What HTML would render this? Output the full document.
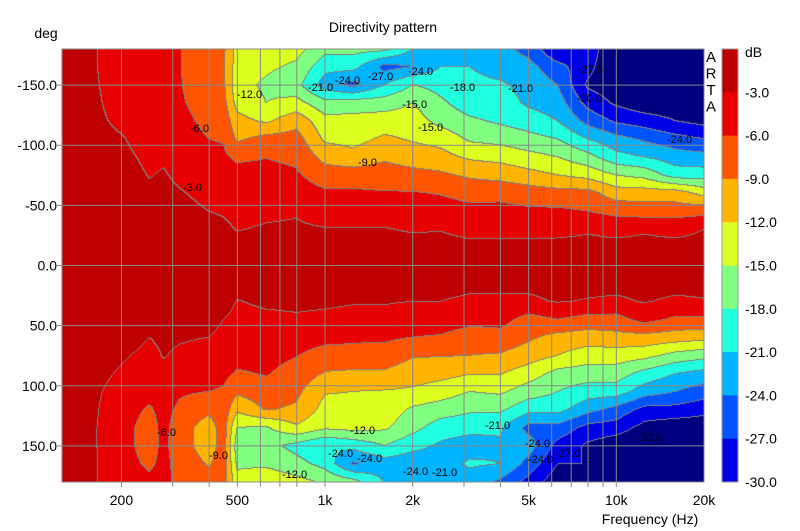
<!DOCTYPE html>
<html><head><meta charset="utf-8">
<style>
html,body{margin:0;padding:0;background:#fff;}
#wrap{position:relative;width:800px;height:531px;overflow:hidden;font-family:"Liberation Sans",Arial,sans-serif;}
canvas{position:absolute;left:62px;top:49px;}
svg{position:absolute;left:0;top:0;}
</style></head>
<body>
<div id="wrap">
<canvas id="cv" width="642" height="433"></canvas>
<svg id="sv" width="800" height="531"></svg>
</div>
<script>
// ---- data ----
const freqs = [125,160,200,250,280,315,400,450,500,630,800,1000,1250,1600,2000,2500,3150,4000,5000,6300,8000,10000,12500,16000,20000];
const angles = [-180,-165,-150,-135,-120,-105,-90,-75,-60,-45,-30,-15,0,15,30,45,60,75,90,105,120,135,150,165,180];
const col125 = [-2,-2,-1.8,-1.6,-1.5,-1.4,-1.3,-1.2,-1.1,-1,-1,-1,-1,-1,-1,-1,-1,-1.1,-1.2,-1.3,-1.4,-1.5,-1.6,-1.8,-2];
const col160 = [-2.7,-2.7,-2.6,-2.5,-2.4,-2.2,-2,-1.8,-1.5,-1.3,-1.1,-1,-1,-1,-1.1,-1.3,-1.5,-1.8,-2.2,-2.5,-2.6,-2.7,-2.7,-2.7,-2.7];
const col200 = [-4.5,-4.5,-4.3,-4,-3.5,-2.8,-2.4,-2,-1.8,-1.5,-1.2,-1,-1,-1,-1.2,-1.6,-2,-2.7,-3.3,-4,-4.5,-4.7,-4.7,-4.5,-4.5];
const col250 = [-5,-5,-5,-4.8,-4.5,-4,-3.5,-3.1,-2.6,-2.2,-1.8,-1.4,-1.2,-1.3,-1.7,-2.3,-3,-3.6,-4.2,-5,-6.4,-7.4,-7.4,-6.6,-5.2];
const col280 = [-5.4,-5.4,-5.3,-5.1,-4.7,-4,-3.3,-2.8,-2.4,-2,-1.6,-1.3,-1.2,-1.3,-1.7,-2.3,-2.6,-2.9,-3.4,-4.3,-4.9,-5.1,-5.2,-5.1,-5];
const col315 = [-5.8,-5.8,-5.7,-5.5,-5,-4.5,-4,-3.4,-2.8,-2.3,-1.8,-1.4,-1.2,-1.3,-1.8,-2.5,-2.8,-3.3,-4.5,-5.6,-6.5,-7.5,-7.5,-7,-6.8];
const col400 = [-8,-8,-8,-7.5,-6.8,-6,-5.2,-4.5,-3.6,-3,-2.4,-1.8,-1.5,-1.6,-2,-2.4,-3,-3.8,-5,-6,-8.3,-10.6,-10.6,-9.3,-7.8];
const col450 = [-8.5,-8.5,-8.5,-8,-7,-6.2,-5.5,-4.7,-3.8,-3.2,-2.6,-2,-1.6,-1.6,-2,-3,-3.5,-4.2,-5.3,-6.3,-7,-7.4,-7.5,-7.4,-7.3];
const col500 = [-13,-13.5,-14,-13,-11,-9.5,-6.5,-5,-4.2,-3.6,-3.1,-2.2,-1.8,-2,-3.1,-3.7,-4.3,-5,-6.3,-8.5,-11.5,-15,-16.5,-15.5,-14];
const col630 = [-14,-14.5,-15.5,-15,-12.5,-8,-6.1,-5,-4.2,-3.4,-2.8,-2.2,-1.8,-2,-2.6,-3.5,-4.2,-5,-5.8,-7,-8.8,-15.3,-17,-15.5,-13];
const col800 = [-14,-15.5,-17,-14,-10,-7.8,-6.6,-5.6,-4.6,-3.2,-2.7,-2.2,-1.8,-2,-2.5,-3.3,-4.5,-5.9,-7.2,-8.3,-9.5,-12.5,-19,-17,-14];
const col1000 = [-17,-20,-22.5,-17,-14,-12.5,-10,-7.5,-5.5,-4,-2.9,-2.2,-1.8,-2,-2.6,-3.5,-5,-7.3,-9.2,-11.8,-13,-14.5,-21,-19,-15.5];
const col1250 = [-17,-20,-25,-16.5,-14,-13,-11,-7.5,-5.5,-4,-2.9,-2.2,-1.8,-2,-2.8,-3.8,-5.5,-7,-9.5,-12,-13,-14,-20,-24.5,-17];
const col1600 = [-17,-25,-21,-16.5,-13.5,-11.5,-9.5,-7.5,-5.8,-4,-2.9,-2.2,-1.8,-2,-2.8,-3.8,-5.5,-7.2,-9.5,-12.2,-13.2,-14.5,-18,-22.5,-21];
const col2000 = [-21,-24,-18,-15,-13.5,-12.3,-10.5,-8,-5.8,-4.3,-3.2,-2.3,-1.8,-2,-3,-4.2,-6,-8.8,-10.5,-12.5,-15.5,-17,-20,-23,-23];
const col2500 = [-21,-21,-19,-17.5,-16,-13,-11,-8.5,-6.2,-4.5,-3.1,-2.3,-1.8,-2,-3,-4.3,-6.3,-8.8,-11,-13.5,-16.5,-19.5,-21.5,-22.5,-21.5];
const col3150 = [-22,-21,-20,-19.5,-17.5,-15.5,-12.5,-9.5,-7,-5.2,-3.6,-2.5,-2,-2.3,-3.5,-5,-7.5,-9,-11.8,-15,-17.5,-20,-22.5,-20.5,-22.5];
const col4000 = [-23,-22.5,-20.5,-19.5,-18.5,-16,-13,-10,-7,-5,-3.6,-2.5,-2,-2.3,-3.5,-5,-7,-9.3,-11.8,-14.5,-17.5,-20.5,-21.5,-21,-24.5];
const col5000 = [-25,-23,-22,-21.5,-19.5,-17,-14,-11,-7.5,-5.5,-3.6,-2.5,-2,-2.3,-3.5,-7,-8.5,-10.5,-13.5,-16.5,-20,-25,-22.5,-25,-28];
const col6300 = [-30,-26,-24,-22.5,-21,-18,-15,-12,-8,-5.5,-3.5,-2.5,-2,-2,-2.8,-6,-10,-12,-16,-18,-20,-25,-28,-30,-32];
const col8000 = [-28,-29,-30.5,-28,-25,-21,-17,-13,-8,-6,-3.2,-2.5,-2,-2,-3.2,-7,-10.5,-13.5,-16.5,-19.5,-23,-28,-30.5,-30,-33];
const col10000 = [-33,-33,-32,-30.5,-27.5,-23,-20,-15,-10.5,-7,-3.5,-2.5,-2,-2,-3.5,-7,-10,-13.5,-16.5,-19.5,-25,-28.5,-32,-33,-33];
const col12500 = [-33,-33,-33,-32,-28.5,-24.5,-21,-16,-10.5,-7.5,-3.2,-2.5,-2,-2,-2.8,-5,-10,-14,-19,-22.5,-28,-31,-33,-33,-33];
const col16000 = [-33,-33,-33,-32,-30,-26,-22.5,-19.5,-10.5,-7.5,-3.5,-2.5,-2,-2,-3.5,-6.5,-10.5,-16,-21,-24,-28,-32,-33,-33,-33];
const col20000 = [-33,-33,-33,-32.5,-31,-27,-23,-19.5,-13,-7,-3,-2.5,-2,-2,-3.2,-6.5,-11,-17,-22,-25.5,-29,-32,-33,-33,-33];
const columns = [col125,col160,col200,col250,col280,col315,col400,col450,col500,col630,col800,col1000,col1250,col1600,col2000,col2500,col3150,col4000,col5000,col6300,col8000,col10000,col12500,col16000,col20000];
const yTicks = [-150,-100,-50,0,50,100,150];
const xTickVals = [200,500,1000,2000,5000,10000,20000];
const xTickLabels = ["200","500","1k","2k","5k","10k","20k"];
const gridFreqs = [200,300,400,500,600,700,800,1000,2000,3000,4000,5000,6000,7000,8000,9000,10000];
const levels = [-3,-6,-9,-12,-15,-18,-21,-24,-27,-30];
const levelLabels = ["-3.0","-6.0","-9.0","-12.0","-15.0","-18.0","-21.0","-24.0","-27.0","-30.0"];
const bandColors = ["#bf0000","#e60000","#ff5500","#ffb400","#dcff20","#80ff80","#20ffe0","#00b4ff","#0055ff","#0000e6","#000080"];
const contourLabels = [
 ["-12.0",237,98],["-6.0",190,132],["-3.0",183,191],["-21.0",308,91],["-24.0",335,84],["-27.0",368,80],["-24.0",408,75],
 ["-18.0",450,91],["-15.0",402,108],["-15.0",418,131],["-9.0",358,166],["-21.0",508,92],["-27.0",578,73],["-30.0",577,102],
 ["-24.0",667,143],["-6.0",157,436],["-9.0",209,459],["-12.0",282,478],["-12.0",350,434],["-24.0",328,457],["-24.0",357,462],
 ["-24.0",403,475],["-21.0",432,476],["-21.0",485,429],["-24.0",525,447],["-24.0",528,463],["-27.0",555,457],["-30.0",637,441]
];
// ---- scales ----
const X0=62, X1=704, Y0=49, Y1=482;
const lmin=Math.log10(125), lmax=Math.log10(20000);
function xOf(f){return X0+(Math.log10(f)-lmin)/(lmax-lmin)*(X1-X0);}
function yOf(a){return Y0+(a+180)/360*(Y1-Y0);}
function band(v){let b=0;for(let i=0;i<levels.length;i++){if(v<=levels[i])b=i+1;}return b;}
// ---- render field ----
const W=X1-X0, H=Y1-Y0;
const cv=document.getElementById('cv');
const ctx=cv.getContext('2d');
const img=ctx.createImageData(W,H);
const lf=freqs.map(f=>Math.log10(f));
const bands=new Uint8Array(W*H);
for(let px=0;px<W;px++){
  const l=lmin+(px+0.5)/W*(lmax-lmin);
  let j=0; while(j<lf.length-2 && l>lf[j+1]) j++;
  const tx=Math.max(0,Math.min(1,(l-lf[j])/(lf[j+1]-lf[j])));
  const cA=columns[j], cB=columns[j+1];
  for(let py=0;py<H;py++){
    const a=-180+(py+0.5)/H*360;
    let r=(a+180)/15; let i=Math.min(angles.length-2,Math.floor(r)); const ty=r-i;
    const v=(cA[i]*(1-ty)+cA[i+1]*ty)*(1-tx)+(cB[i]*(1-ty)+cB[i+1]*ty)*tx;
    bands[py*W+px]=band(v);
  }
}
function hex(h){return [parseInt(h.substr(1,2),16),parseInt(h.substr(3,2),16),parseInt(h.substr(5,2),16)];}
const rgb=bandColors.map(hex);
for(let py=0;py<H;py++)for(let px=0;px<W;px++){
  const b=bands[py*W+px];
  let c=rgb[b];
  if((px<W-1&&bands[py*W+px+1]!==b)||(py<H-1&&bands[(py+1)*W+px]!==b)) c=[128,128,128];
  const k=(py*W+px)*4; img.data[k]=c[0];img.data[k+1]=c[1];img.data[k+2]=c[2];img.data[k+3]=255;
}
ctx.putImageData(img,0,0);
// ---- overlay ----
const NS='http://www.w3.org/2000/svg';
const sv=document.getElementById('sv');
function mk(tag,attrs,txt){const e=document.createElementNS(NS,tag);for(const k in attrs)e.setAttribute(k,attrs[k]);if(txt!==undefined)e.textContent=txt;sv.appendChild(e);return e;}
gridFreqs.forEach(f=>{
  const x=xOf(f);
  const g=mk('line',{x1:x,x2:x,y1:Y0,y2:Y1+5,stroke:'#888',"stroke-width":1});
  
  
});
yTicks.forEach(a=>{
  const y=yOf(a);
  const g=mk('line',{x1:X0-5,x2:X1,y1:y,y2:y,stroke:'#888',"stroke-width":1});
  
  
  const t=mk('text',{x:57,y:y+5,"text-anchor":"end","font-size":14,fill:'#000'},a.toFixed(1));
  
  
});
xTickVals.forEach((f,i)=>{
  const t=mk('text',{x:xOf(f),y:505,"text-anchor":"middle","font-size":14,fill:'#000'},xTickLabels[i]);
  
  
});
const border=mk('rect',{x:X0,y:Y0,width:W,height:H,fill:'none',stroke:'#888',"stroke-width":1});


contourLabels.forEach(c=>{
  const t=mk('text',{x:c[1],y:c[2],"font-size":11,fill:'#000'},c[0]);
  
  
});
// colorbar
const CBX=722, CBW=16, bh=(Y1-Y0)/10;
for(let i=0;i<10;i++){
  const r=mk('rect',{x:CBX,y:Y0+i*bh,width:CBW,height:bh+0.5,fill:bandColors[i]});
  
  
  const t=mk('text',{x:745,y:Y0+(i+1)*bh+5,"font-size":14,fill:'#000'},levelLabels[i]);
  
  
}
const cbb=mk('rect',{x:CBX,y:Y0,width:CBW,height:H,fill:'none',stroke:'#999',"stroke-width":1});


const db=mk('text',{x:745,y:57,"font-size":14,fill:'#000'},'dB');


['A','R','T','A'].forEach((ch,i)=>{
  const t=mk('text',{x:711,y:62+i*16.5,"text-anchor":"middle","font-size":15,fill:'#000'},ch);
  
  
});
const title=mk('text',{x:383,y:32,"text-anchor":"middle","font-size":14,fill:'#000'},'Directivity pattern');


const yt=mk('text',{x:46,y:38,"text-anchor":"middle","font-size":14,fill:'#000'},'deg');


const xt=mk('text',{x:650,y:524,"text-anchor":"middle","font-size":14,fill:'#000'},'Frequency (Hz)');


</script>
</body></html>
